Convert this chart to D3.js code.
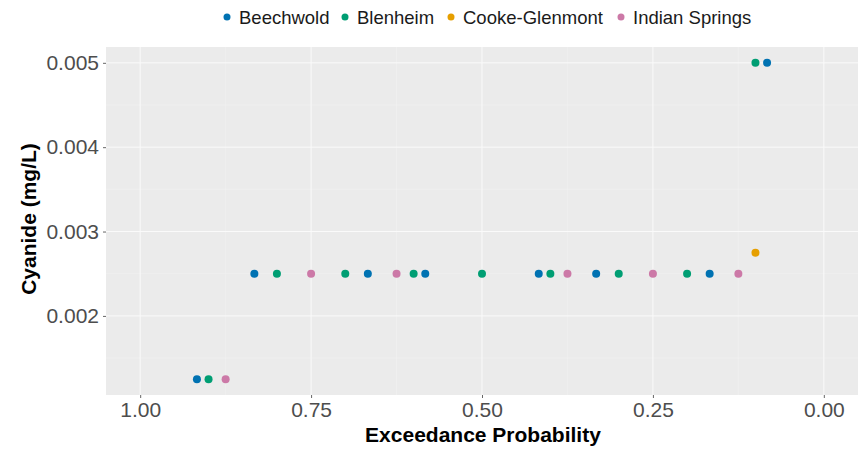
<!DOCTYPE html>
<html>
<head>
  <meta charset="utf-8">
  <title>Cyanide exceedance</title>
  <script src="https://cdn.jsdelivr.net/npm/d3@7"></script>
  <style>
    body { margin: 0; background: #fff; }
    text { font-family: "Liberation Sans", Arial, sans-serif; }
  </style>
</head>
<body>
  <div id="chart"></div>
  <script>
    // sites (legend order)
    const sites = ["Beechwold", "Blenheim", "Cooke-Glenmont", "Indian Springs"];
    const colors = ["#0072B2", "#009E73", "#E69F00", "#CC79A7"];

    // exceedance probability and cyanide value for each site
    const beechwoldP = [0.917, 0.833, 0.667, 0.583, 0.417, 0.333, 0.167, 0.083];
    const beechwoldV = [0.00125, 0.0025, 0.0025, 0.0025, 0.0025, 0.0025, 0.0025, 0.005];
    const blenheimP = [0.9, 0.8, 0.7, 0.6, 0.5, 0.4, 0.3, 0.2, 0.1];
    const blenheimV = [0.00125, 0.0025, 0.0025, 0.0025, 0.0025, 0.0025, 0.0025, 0.0025, 0.005];
    const cookeP = [0.1];
    const cookeV = [0.00275];
    const indianP = [0.875, 0.75, 0.625, 0.375, 0.25, 0.125];
    const indianV = [0.00125, 0.0025, 0.0025, 0.0025, 0.0025, 0.0025];

    const xTicks = [1, 0.75, 0.5, 0.25, 0];
    const yTicks = [0.002, 0.003, 0.004, 0.005];
    const xMinor = [0.875, 0.625, 0.375, 0.125];
    const yMinor = [0.0015, 0.0025, 0.0035, 0.0045];

    const w = 867, h = 449;
    const panel = { left: 106, right: 858, top: 47, bottom: 395 };

    const svg = d3.select("#chart").append("svg")
      .attr("width", w).attr("height", h);

    const x = d3.scaleLinear().domain([1.05, -0.05]).range([panel.left, panel.right]);
    const y = d3.scaleLinear().domain([0.0010625, 0.0051875]).range([panel.bottom, panel.top]);

    // panel
    svg.append("rect")
      .attr("x", panel.left).attr("y", panel.top)
      .attr("width", panel.right - panel.left).attr("height", panel.bottom - panel.top)
      .attr("fill", "#EBEBEB");

    // grid (faint in the original)
    const grid = svg.append("g");
    grid.selectAll(".xmin").data(xMinor).enter().append("line")
      .attr("x1", d => x(d)).attr("x2", d => x(d))
      .attr("y1", panel.top).attr("y2", panel.bottom)
      .attr("stroke", "#F2F2F2").attr("stroke-width", 0.5);
    grid.selectAll(".ymin").data(yMinor).enter().append("line")
      .attr("y1", d => y(d)).attr("y2", d => y(d))
      .attr("x1", panel.left).attr("x2", panel.right)
      .attr("stroke", "#F2F2F2").attr("stroke-width", 0.5);
    grid.selectAll(".xmaj").data(xTicks).enter().append("line")
      .attr("x1", d => x(d)).attr("x2", d => x(d))
      .attr("y1", panel.top).attr("y2", panel.bottom)
      .attr("stroke", "#FAFAFA").attr("stroke-width", 1);
    grid.selectAll(".ymaj").data(yTicks).enter().append("line")
      .attr("y1", d => y(d)).attr("y2", d => y(d))
      .attr("x1", panel.left).attr("x2", panel.right)
      .attr("stroke", "#FAFAFA").attr("stroke-width", 1);

    // axes
    const xAxis = d3.axisBottom(x).tickValues(xTicks).tickSize(3).tickPadding(4)
      .tickFormat(d3.format(".2f"));
    const gx = svg.append("g").attr("transform", `translate(0,${panel.bottom})`).call(xAxis);
    const yAxis = d3.axisLeft(y).tickValues(yTicks).tickSize(3).tickPadding(4)
      .tickFormat(d3.format(".3f"));
    const gy = svg.append("g").attr("transform", `translate(${panel.left},0)`).call(yAxis);
    [gx, gy].forEach(g => {
      g.select(".domain").remove();
      g.selectAll(".tick line").attr("stroke", "#666");
      g.selectAll(".tick text").attr("fill", "#4D4D4D")
        .style("font-size", "21px");
    });

    // axis titles
    svg.append("text")
      .attr("x", 483).attr("y", 442)
      .attr("text-anchor", "middle")
      .style("font-size", "21px").style("font-weight", "bold")
      .text("Exceedance Probability");
    svg.append("text")
      .attr("transform", `translate(36,219) rotate(-90)`)
      .attr("text-anchor", "middle")
      .style("font-size", "21px").style("font-weight", "bold")
      .text("Cyanide (mg/L)");

    // points
    const series = [
      { p: beechwoldP, v: beechwoldV, c: colors[0] },
      { p: blenheimP, v: blenheimV, c: colors[1] },
      { p: cookeP, v: cookeV, c: colors[2] },
      { p: indianP, v: indianV, c: colors[3] }
    ];
    series.forEach(s => {
      svg.append("g").selectAll("circle")
        .data(s.p.map((p, i) => [p, s.v[i]]))
        .enter().append("circle")
        .attr("cx", d => x(d[0])).attr("cy", d => y(d[1]))
        .attr("r", 4).attr("fill", s.c);
    });

    // legend
    const legendX = [227, 345, 451, 621];
    const lg = svg.append("g");
    sites.forEach((s, i) => {
      lg.append("circle").attr("cx", legendX[i]).attr("cy", 17).attr("r", 3.5).attr("fill", colors[i]);
      lg.append("text").attr("x", legendX[i] + 12).attr("y", 24)
        .style("font-size", "18.5px").attr("fill", "#1A1A1A").text(s);
    });
  </script>
</body>
</html>
